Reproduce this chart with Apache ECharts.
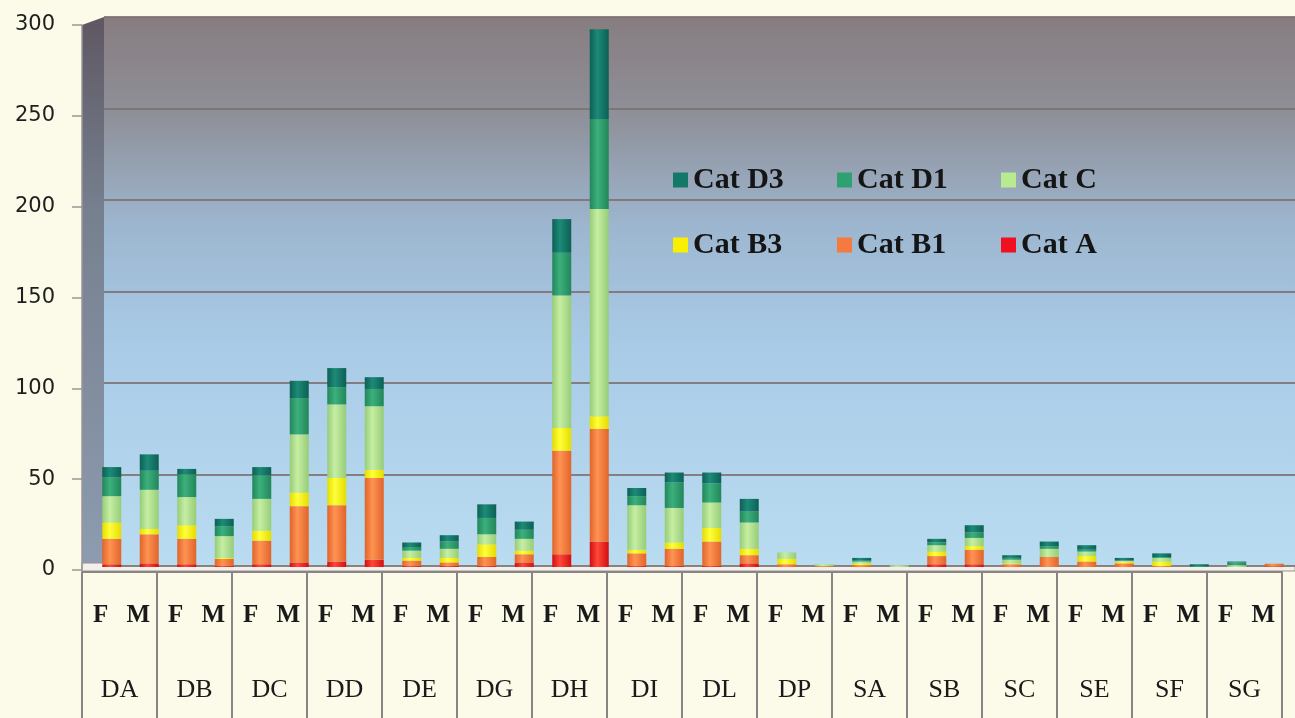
<!DOCTYPE html>
<html>
<head>
<meta charset="utf-8">
<script src="https://cdn.jsdelivr.net/npm/echarts@6/dist/echarts.min.js"></script>
<style>
html,body{margin:0;padding:0;background:#fcfae8;}
#chart{width:1295px;height:718px;}
</style>
</head>
<body>
<div id="chart"></div>
<script>
// ---- data ----
const groups = ['DA','DB','DC','DD','DE','DG','DH','DI','DL','DP','SA','SB','SC','SE','SF','SG'];
const sexes = ['F','M'];
const yTicks = [0, 50, 100, 150, 200, 250, 300];
// one value per bar: DA F, DA M, DB F, DB M, ...
const catA  = [1.5,2, 1.5,0.5, 1.5,2.5, 3,4,   0.5,0.5, 0.5,2.5, 7,14,    0.5,0.5, 0.5,2,   0,0,     0,0,   1.5,1.5, 0,0,     0,0,   0,0,     0,0.3];
const catB1 = [14,16, 14,4,    13,31,   31,45, 3,2,     5,4.5,   57,62,   7,9.5,   13.5,4.5, 1.5,0.5, 1,0,   4.5,8,   1.5,5.5, 3,2,   0.5,0,   0,1.5];
const catB3 = [9,3,   7.5,0.5, 5.5,7.5, 15,4.5, 1.5,2.5, 7,2,    12.5,7,   2,3.5,   7.5,3.5,  3,0,     1,0,   2.5,2,   0.5,0,   3,1,   2.5,0,   0,0];
const catC  = [14.5,21.5, 15.5,12, 17.5,32, 40.5,35, 4,5, 5.5,6.5, 73,114, 24.5,19, 14,14.5, 3.5,1, 1,1, 3.5,4.5, 2,4.5, 2.5,0.5, 2,0, 1,0];
const catD1 = [10.5,10.5, 12.5,5.5, 13,20, 9.5,9.5, 2,4, 9,5, 23.5,49.5, 5,14, 10.5,6, 0,0, 0.5,0, 1.5,3, 1,1.5, 1,0, 0.5,0.5, 1.5,0];
const catD3 = [5.5,9, 3,4, 4.5,9.5, 10.5,6.5, 2.5,3.5, 7.5,4.5, 18.5,49.5, 4.5,5.5, 6,7, 0,0, 1.5,0, 2,4, 1.5,2.5, 2.5,1.5, 2,1, 0.5,0];

const seriesNames = ['Cat A','Cat B1','Cat B3','Cat C','Cat D1','Cat D3'];
const seriesData = [catA, catB1, catB3, catC, catD1, catD3];

// ---- styles ----
const palette = {
  'Cat A':  {icon:'#f01020', dark:'#d20e10', light:'#ff4838'},
  'Cat B1': {icon:'#f47a40', dark:'#e0642a', light:'#ff9352'},
  'Cat B3': {icon:'#f8f000', dark:'#e4dc00', light:'#ffff3a'},
  'Cat C':  {icon:'#b8ea92', dark:'#96cc78', light:'#c6eea2'},
  'Cat D1': {icon:'#2fa070', dark:'#22865a', light:'#3cb07c'},
  'Cat D3': {icon:'#137868', dark:'#0c6054', light:'#1d8a78'}
};
function cyl(p){
  return new echarts.graphic.LinearGradient(0,0,1,0,[
    {offset:0,color:p.dark},{offset:0.4,color:p.light},{offset:1,color:p.dark}
  ]);
}

const barCats = [];
groups.forEach(g => sexes.forEach(s => barCats.push(g + ' ' + s)));
const fmCats = [];
groups.forEach(() => sexes.forEach(s => fmCats.push(s)));

const chart = echarts.init(document.getElementById('chart'));

const legendText = {fontFamily:'Liberation Serif', fontWeight:'bold', fontSize:30, color:'#151515', width:118, lineHeight:30};
function legendData(names){ return names.map(n => ({name:n, itemStyle:{color:palette[n].icon}})); }

const option = {
  animation:false,
  backgroundColor:'#fcfae8',
  graphic:[
    // left side wall
    {type:'polygon', z:-10, silent:true,
     shape:{points:[[82,25],[104,17],[104,566],[82,571]]},
     style:{fill:new echarts.graphic.LinearGradient(0,0,0,1,[
        {offset:0,color:'#5f5763'},{offset:0.35,color:'#76808f'},{offset:1,color:'#8d9cb0'}])}},
    // floor
    {type:'rect', z:-5, silent:true, shape:{x:82,y:563,width:1213,height:8},
     style:{fill:'#f3efea', stroke:'#9a9090', lineWidth:1}}
  ],
  legend:[
    {data:legendData(['Cat D3','Cat D1','Cat C']), left:668, top:160, orient:'horizontal',
     itemWidth:15, itemHeight:15, itemGap:26, icon:'rect', selectedMode:false, textStyle:legendText},
    {data:legendData(['Cat B3','Cat B1','Cat A']), left:668, top:225, orient:'horizontal',
     itemWidth:15, itemHeight:15, itemGap:26, icon:'rect', selectedMode:false, textStyle:legendText}
  ],
  grid:[
    // 0: bars
    {left:93, right:2, top:22, bottom:151},
    // 1: visible value axis
    {left:82, right:13, top:25, bottom:148},
    // 2: back wall + gridlines
    {left:104, right:0, top:17, bottom:152, show:true, borderWidth:0,
     backgroundColor:new echarts.graphic.LinearGradient(0,0,0,1,[
       {offset:0,color:'#877d80'},{offset:0.18,color:'#8f9099'},{offset:0.38,color:'#9db6cf'},
       {offset:0.6,color:'#a9cbe7'},{offset:1,color:'#b9dcf1'}])},
    // 3: category label table
    {left:82, right:13, top:500, bottom:146}
  ],
  xAxis:[
    {gridIndex:0, type:'category', data:barCats, show:false},
    {gridIndex:1, type:'category', data:barCats, show:false},
    {gridIndex:2, type:'category', data:barCats, show:false},
    {gridIndex:3, type:'category', data:fmCats, position:'bottom',
     axisLine:{show:true, lineStyle:{color:'#8a8585', width:2}},
     axisTick:{show:false},
     axisLabel:{interval:0, margin:31, fontFamily:'Liberation Serif', fontWeight:'bold', fontSize:25, color:'#1a1a1a'}},
    {gridIndex:3, type:'category', data:groups, position:'bottom',
     axisLine:{show:false},
     axisTick:{show:true, length:146, interval:0, lineStyle:{color:'#8a8585', width:2}},
     axisLabel:{interval:0, margin:105, fontFamily:'Liberation Serif', fontSize:26, color:'#1a1a1a'}}
  ],
  yAxis:[
    {gridIndex:0, type:'value', min:0, max:300, interval:50, show:false},
    {gridIndex:1, type:'value', min:0, max:300, interval:50,
     axisLine:{show:true, lineStyle:{color:'#9a9696', width:1.5}},
     axisTick:{show:true, length:10, lineStyle:{color:'#9a9696', width:1.5}},
     axisLabel:{margin:27, fontFamily:'DejaVu Sans', fontSize:21, color:'#1e1e1e',
       formatter:v => yTicks.indexOf(v) >= 0 ? String(v) : ''},
     splitLine:{show:false}},
    {gridIndex:2, type:'value', min:0, max:300, interval:50,
     axisLine:{show:false}, axisTick:{show:false}, axisLabel:{show:false},
     splitLine:{show:true, lineStyle:{color:'#7d7070', width:2, opacity:0.85}}},
    {gridIndex:3, type:'value', show:false}
  ],
  series: seriesNames.map((n, i) => ({
    name:n, type:'bar', stack:'all', xAxisIndex:0, yAxisIndex:0,
    barWidth:19, z:3,
    itemStyle:{color:cyl(palette[n])},
    emphasis:{disabled:true},
    data:seriesData[i]
  }))
};
chart.setOption(option);
</script>
</body>
</html>
